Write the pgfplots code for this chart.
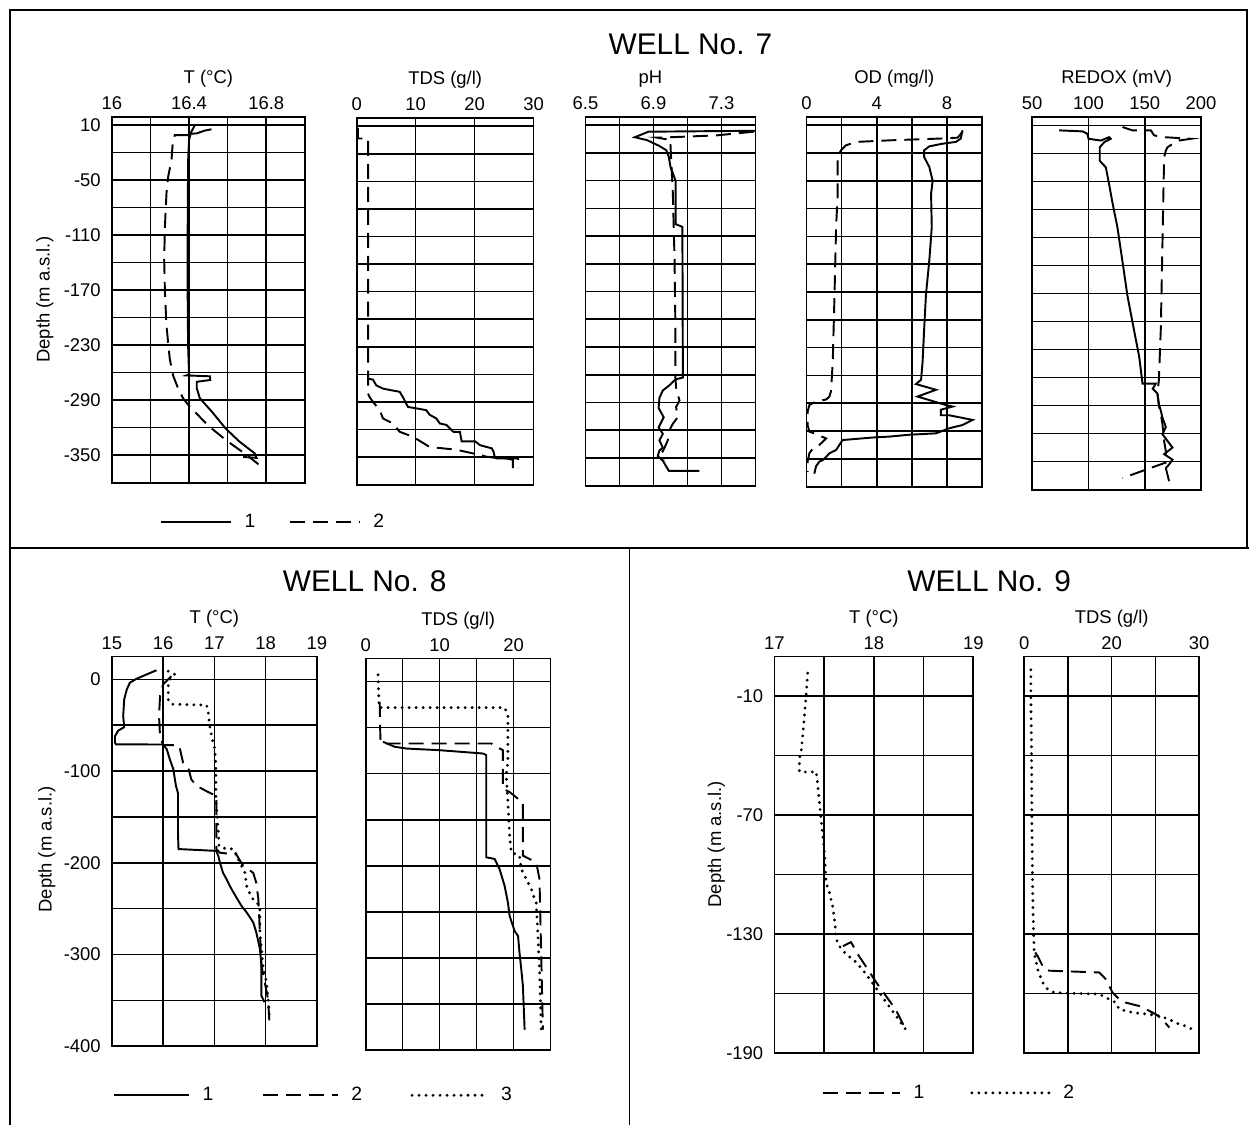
\documentclass[border=0pt]{standalone}
\usepackage{fontspec}
\setmainfont{Liberation Sans}
\usepackage{pgfplots}
\pgfplotsset{compat=1.18}

\newcommand{\tickfont}{\fontsize{10.5}{12.5}\selectfont}
\newcommand{\labfont}{\fontsize{10.5}{12.5}\selectfont}

\pgfplotsset{
 wellax/.style={
   scale only axis, anchor=north west,
   axis line style={line width=1pt},
   grid=major, major grid style={line width=0.9pt,black},
   major tick length=0pt,
   xticklabel pos=upper,
   tick label style={font=\tickfont},
   xticklabel style={anchor=base,yshift=0.15cm},
   yticklabel style={xshift=-0.1cm},
   yticklabels={},
   no markers,
 },
 atitle/.style={extra description/.code={\node[anchor=base,font=\labfont,yshift=0.66cm] at (axis description cs:0.5,1) {#1};}},
 s1/.style={black,line width=1.1pt},
 s2/.style={black,line width=1.1pt,dash pattern=on 0.3cm off 0.16cm},
 s3/.style={black,line width=1.8pt,line cap=round,dash pattern=on 0pt off 0.14cm},
 legimg/.style={legend image code/.code={\draw[##1] (0cm,0cm) -- (#1,0cm);}},
 wlegend/.style={legend style={draw=none,fill=none,inner sep=0pt,legend columns=-1,
   font=\fontsize{11}{13}\selectfont,
   /tikz/every odd column/.append style={column sep=0.18cm},
   /tikz/every even column/.append style={column sep=#1}}},
}

\begin{document}
\begin{tikzpicture}
\path (0,0) rectangle (25,-22.52);
% frames
\draw[line width=1.1pt] (0.2,-22.52) -- (0.2,-0.2) -- (24.96,-0.2) -- (24.96,-10.96);
\draw[line width=1.1pt] (0.2,-10.96) -- (25,-10.96);
\draw[line width=1.1pt] (12.6,-10.96) -- (12.6,-22.52);
% titles
\node[font=\fontsize{17}{20}\selectfont] at (13.82,-0.88) {WELL No. 7};
\node[font=\fontsize{17}{20}\selectfont] at (7.3,-11.64) {WELL No. 8};
\node[font=\fontsize{17}{20}\selectfont] at (19.8,-11.64) {WELL No. 9};
\node[rotate=90,font=\labfont] at (0.9,-6.0) {Depth (m a.s.l.)};
\node[rotate=90,font=\labfont] at (0.94,-17.0) {Depth (m a.s.l.)};
\node[rotate=90,font=\labfont] at (14.34,-16.9) {Depth (m a.s.l.)};

% ================= WELL 7 =================
\begin{axis}[wellax, at={(2.24cm,-2.34cm)}, width=3.86cm, height=7.32cm,
  xmin=16, xmax=17, ymin=-380, ymax=19,
  xtick={16,16.2,16.4,16.6,16.8,17}, xticklabels={16,,16.4,,16.8,},
  ytick={-350,-320,-290,-260,-230,-200,-170,-140,-110,-80,-50,-20,10},
  yticklabels={-350,,-290,,-230,,-170,,-110,,-50,,10},
  atitle={T (°C)},
  legimg=1.4cm, wlegend=0.6cm,
  legend style={at={(0.249,-0.107)},anchor=west}]
\addplot[s1] coordinates {(16.43,10) (16.41,2) (16.40,-6) (16.395,-30) (16.393,-100) (16.393,-180) (16.395,-230) (16.40,-262) (16.387,-263) (16.508,-264) (16.51,-268) (16.44,-270) (16.44,-277) (16.456,-288) (16.52,-303) (16.59,-321) (16.66,-335) (16.74,-348) (16.75,-353) (16.68,-352)};
\addlegendentry{1}
\addplot[s2] coordinates {(16.395,-0.8) (16.326,-0.8) (16.314,-13) (16.309,-28) (16.292,-46) (16.283,-64) (16.275,-100) (16.271,-136) (16.275,-173) (16.283,-209) (16.30,-245) (16.317,-263) (16.343,-277) (16.369,-288) (16.395,-295) (16.50,-318) (16.60,-335) (16.70,-350) (16.76,-360)};
\addlegendentry{2}
\addplot[s1,forget plot] coordinates {(16.516,5.5) (16.48,4) (16.44,1) (16.40,0.5)};
\end{axis}

\begin{axis}[wellax, at={(7.14cm,-2.36cm)}, width=3.54cm, height=7.34cm,
  xmin=0, xmax=30, ymin=-380, ymax=19,
  xtick={0,10,20,30}, xticklabels={0,10,20,30},
  ytick={-350,-320,-290,-260,-230,-200,-170,-140,-110,-80,-50,-20,10},
  atitle={TDS (g/l)}]
\addplot[s1] coordinates {(1.92,-264.7) (2.77,-265.8) (3.3,-272) (4.46,-275.5) (5.6,-277) (7.29,-279) (7.85,-285) (8.4,-292) (8.7,-295.5) (10.1,-297) (11.8,-299) (12.37,-304) (13.5,-308) (14.1,-313.5) (15.2,-315) (16.4,-322.5) (17.5,-322.5) (17.8,-333) (20.1,-333) (20.9,-337) (22.0,-339) (22.9,-340.5) (23.2,-344) (23.4,-349.6) (23.7,-351.4) (25.4,-351.4) (26.5,-353) (26.5,-362)};
\addplot[s2] coordinates {(0.2,8) (0.2,-3.4) (1.92,-3.4) (1.92,-281) (2.2,-285) (2.77,-290) (3.9,-299) (4.46,-308) (6.15,-313.5) (7.29,-322.5) (9.55,-328) (12.37,-339) (14.6,-340.5) (16.9,-342) (19.7,-346) (22.0,-349.6) (24.2,-351.4) (27.4,-351.4) (27.4,-362)};
\end{axis}

\begin{axis}[wellax, at={(11.72cm,-2.34cm)}, width=3.40cm, height=7.38cm,
  xmin=6.5, xmax=7.5, ymin=-380, ymax=19,
  xtick={6.5,6.7,6.9,7.1,7.3,7.5}, xticklabels={6.5,,6.9,,7.3,},
  ytick={-350,-320,-290,-260,-230,-200,-170,-140,-110,-80,-50,-20,10},
  extra description/.code={\node[anchor=base,font=\labfont,yshift=0.66cm,xshift=-0.4cm] at (axis description cs:0.5,1) {pH};}]
\addplot[s1] coordinates {(7.5,4) (6.87,3) (6.79,-3) (6.86,-6) (6.93,-12) (6.975,-17) (6.99,-24) (7.00,-35) (7.03,-50) (7.03,-97) (7.07,-100) (7.073,-263) (7.03,-265) (6.99,-272) (6.955,-277) (6.935,-285) (6.93,-296) (6.96,-306) (6.93,-317) (6.955,-324) (6.935,-331) (6.955,-339) (6.935,-342) (6.925,-348) (6.955,-353) (6.99,-364) (7.17,-364)};
\addplot[s2] coordinates {(7.49,3) (7.27,-1) (7.0,-3) (6.92,-3.4) (7.0,-6) (7.0,-11) (7.004,-28) (7.014,-64) (7.024,-136) (7.029,-209) (7.029,-263) (7.033,-274) (7.043,-281) (7.053,-288) (7.033,-295) (7.043,-306) (7.014,-313) (6.994,-320) (6.984,-331) (6.965,-339) (6.945,-346) (6.96,-353)};
\end{axis}

\begin{axis}[wellax, at={(16.14cm,-2.34cm)}, width=3.52cm, height=7.40cm,
  xmin=0, xmax=10, ymin=-380, ymax=19,
  xtick={0,2,4,6,8,10}, xticklabels={0,,4,,8,},
  ytick={-350,-320,-290,-260,-230,-200,-170,-140,-110,-80,-50,-20,10},
  atitle={OD (mg/l)}]
\addplot[s1] coordinates {(8.88,4.6) (8.78,-4.4) (8.5,-8) (7.74,-9.9) (6.99,-12.8) (6.70,-17) (6.70,-24.4) (6.99,-35) (7.18,-50) (7.09,-64) (7.13,-100) (6.99,-136) (6.80,-172.5) (6.70,-209) (6.61,-245) (6.52,-264.7) (6.23,-269.3) (7.37,-275.5) (6.32,-282.8) (7.94,-292) (8.31,-293.6) (7.65,-297) (7.65,-303) (8.125,-303) (9.45,-308) (8.88,-313.5) (8.125,-317) (7.37,-322.5) (5.85,-324) (4.72,-326) (3.78,-327) (2.06,-329.7) (1.875,-335) (1.69,-340.5) (1.31,-344) (1.12,-348) (0.93,-351.4) (0.74,-353) (0.55,-358) (0.45,-366)};
\addplot[s2] coordinates {(8.88,3) (8.6,-3.4) (7.56,-4.4) (4.72,-6.3) (2.82,-8) (2.25,-11.7) (1.97,-17) (1.78,-24.4) (1.78,-64) (1.69,-100) (1.6,-172.5) (1.5,-245) (1.4,-277) (1.31,-282.8) (1.12,-286) (0.55,-288) (0.17,-292) (0.07,-299) (0.07,-313.5) (0.17,-320.7) (0.45,-322.5) (1.12,-328) (0.74,-335) (0.36,-339) (0.17,-344) (0.07,-353) (0.07,-364)};
\end{axis}

\begin{axis}[wellax, at={(20.66cm,-2.34cm)}, width=3.38cm, height=7.46cm,
  xmin=50, xmax=200, ymin=-380, ymax=19,
  xtick={50,100,150,200}, xticklabels={50,100,150,200},
  ytick={-350,-320,-290,-260,-230,-200,-170,-140,-110,-80,-50,-20,10},
  atitle={REDOX (mV)}]
\addplot[s1] coordinates {(74,4.6) (94.6,3.5) (99,1) (100,-4.4) (110.9,-6.3) (118.3,-2.7) (119.8,-4.4) (114,-8) (110,-13.5) (110,-28) (115.4,-35) (118.3,-53) (121,-71) (125.8,-100) (130.2,-136) (134.6,-172.5) (140.4,-209) (145,-237.6) (148,-266.5) (159.8,-266.5) (157,-272) (161.2,-277) (162.5,-288) (164.2,-295.5) (165.7,-303) (168.7,-313) (165.7,-320.7) (174.6,-335) (167.2,-342) (174.6,-348) (171.6,-353) (168.7,-357) (171.6,-371)};
\addplot[s2] coordinates {(130.2,8.2) (139,4.6) (155.4,4.6) (158.3,-0.8) (167.2,-2.7) (190.9,-4.4) (180.5,-6.3) (174.6,-10) (170.1,-13.5) (168.7,-17) (167.2,-24) (166.5,-64) (165.4,-136) (164.2,-209) (162.5,-263) (161.2,-277) (162.5,-290) (164.2,-299) (165.7,-310) (167.2,-328) (168.7,-339) (168.7,-351) (130.2,-367.6)};
\end{axis}

% ================= WELL 8 =================
\begin{axis}[wellax, at={(2.24cm,-13.14cm)}, width=4.10cm, height=7.80cm,
  xmin=15, xmax=19, ymin=-400, ymax=25,
  xtick={15,16,17,18,19}, xticklabels={15,16,17,18,19},
  ytick={-400,-350,-300,-250,-200,-150,-100,-50,0},
  yticklabels={-400,,-300,,-200,,-100,,0},
  atitle={T (°C)},
  legimg=1.5cm, wlegend=0.9cm,
  legend style={at={(0.005,-0.126)},anchor=west}]
\addplot[s1] coordinates {(15.87,10) (15.48,0.7) (15.35,-3.6) (15.29,-11) (15.24,-22) (15.22,-40) (15.24,-52) (15.12,-56) (15.06,-62) (15.06,-69) (15.08,-70.8) (16.0,-71) (16.07,-76) (16.13,-87) (16.2,-98) (16.23,-109) (16.25,-116) (16.29,-124) (16.29,-167) (16.3,-185) (17.04,-187) (17.08,-193) (17.11,-200) (17.17,-211) (17.24,-218) (17.3,-225) (17.37,-232) (17.53,-247) (17.63,-254) (17.76,-265) (17.82,-276) (17.89,-294) (17.92,-312) (17.92,-345) (17.98,-352)};
\addlegendentry{1}
\addplot[s2] coordinates {(16.16,3.6) (16.0,-5.4) (15.94,-18) (15.92,-40) (15.94,-62) (16.0,-71.6) (16.29,-71.6) (16.33,-76) (16.39,-91) (16.49,-96) (16.55,-109) (16.65,-116) (16.85,-122) (17.04,-127) (17.04,-185) (17.11,-189) (17.43,-191) (17.56,-203) (17.76,-211) (17.82,-222) (17.86,-240) (17.89,-276) (17.92,-312) (18.05,-349) (18.08,-378)};
\addlegendentry{2}
\addplot[s3] coordinates {(16.10,9) (16.23,5.4) (16.13,0) (16.10,-7) (16.10,-22) (16.16,-27) (16.85,-28) (16.88,-36) (16.91,-51) (16.96,-65) (17.01,-76) (17.03,-95) (17.03,-131) (17.08,-167) (17.09,-182) (17.17,-184) (17.37,-185) (17.43,-191) (17.5,-200) (17.6,-211) (17.63,-225) (17.69,-233) (17.76,-240) (17.89,-247) (17.89,-276) (17.92,-294) (17.95,-312) (18.02,-331) (18.05,-349) (18.08,-371)};
\addlegendentry{3}
\end{axis}

\begin{axis}[wellax, at={(7.32cm,-13.18cm)}, width=3.70cm, height=7.84cm,
  xmin=0, xmax=25, ymin=-400, ymax=25,
  xtick={0,5,10,15,20,25}, xticklabels={0,,10,,20,},
  ytick={-400,-350,-300,-250,-200,-150,-100,-50,0},
  atitle={TDS (g/l)}]
\addplot[s1] coordinates {(2.34,-65.4) (3.92,-70.8) (5.5,-72.7) (10.0,-74.5) (15.86,-78.1) (16.3,-79.9) (16.3,-190.7) (17.43,-192.5) (18.1,-203.4) (18.78,-221.6) (19.23,-239.8) (19.46,-254.3) (20.14,-270.7) (20.6,-276.1) (20.8,-294.3) (21.04,-312.4) (21.26,-330.6) (21.49,-377.8)};
\addplot[s2] coordinates {(1.89,-22) (1.98,-61.8) (2.12,-67.2) (17.0,-67.2) (17.66,-70.8) (18.56,-74.5) (18.56,-116.3) (19.46,-119.9) (20.6,-127.2) (21.26,-130.8) (21.26,-188.9) (21.7,-190.7) (23.06,-196.2) (23.5,-214.3) (23.96,-377.8)};
\addplot[s3] coordinates {(1.67,7.3) (1.8,-27.2) (1.8,-28.3) (18.78,-28.3) (19.23,-36.3) (19.23,-87.2) (19.0,-101.7) (19.23,-130.8) (19.46,-167.1) (19.68,-185.3) (20.8,-188.9) (21.04,-203.4) (21.7,-214.3) (22.4,-225.2) (22.84,-236.1) (23.06,-239.8) (23.29,-276.1) (23.5,-312.4) (23.74,-377.8)};
\end{axis}

% ================= WELL 9 =================
\begin{axis}[wellax, at={(15.5cm,-13.14cm)}, width=3.98cm, height=7.94cm,
  xmin=17, xmax=19, ymin=-190, ymax=10,
  xtick={17,17.5,18,18.5,19}, xticklabels={17,,18,,19},
  ytick={-190,-160,-130,-100,-70,-40,-10},
  yticklabels={-190,,-130,,-70,,-10},
  atitle={T (°C)},
  legimg=1.55cm, wlegend=0.85cm,
  legend style={at={(0.236,-0.10)},anchor=west}]
\addplot[s2] coordinates {(17.69,-136) (17.77,-134) (17.85,-141) (17.93,-147) (18.02,-154) (18.12,-161) (18.22,-168) (18.31,-177)};
\addlegendentry{1}
\addplot[s3] coordinates {(17.335,1.6) (17.318,-10.2) (17.30,-21) (17.285,-30) (17.268,-38) (17.251,-41.4) (17.251,-48) (17.35,-48.4) (17.42,-48) (17.436,-55) (17.452,-63) (17.469,-72) (17.486,-80) (17.503,-89) (17.513,-97) (17.519,-104) (17.553,-109) (17.586,-116) (17.603,-122) (17.62,-131) (17.637,-135) (17.72,-140) (17.82,-144) (17.92,-150) (18.02,-157) (18.12,-164) (18.22,-171) (18.32,-178)};
\addlegendentry{2}
\end{axis}

\begin{axis}[wellax, at={(20.5cm,-13.14cm)}, width=3.50cm, height=7.94cm,
  xmin=0, xmax=30, ymin=-190, ymax=10,
  xtick={0,7.5,15,22.5,30}, xticklabels={0,,20,,30},
  ytick={-190,-160,-130,-100,-70,-40,-10},
  atitle={TDS (g/l)}]
\addplot[s2] coordinates {(1.89,-139.2) (2.29,-140.9) (3.43,-147.6) (4.29,-148.4) (12.86,-149.3) (14.0,-152.7) (15.14,-159.4) (16.29,-162.8) (17.43,-164.5) (19.7,-166.2) (20.86,-167.8) (22.6,-170.4) (23.7,-172.9) (24.9,-177.1)};
\addplot[s3] coordinates {(1.14,3.3) (1.14,-10.2) (1.26,-38) (1.31,-71.7) (1.43,-105.4) (1.54,-122.3) (1.71,-139.2) (2.29,-147.6) (3.14,-154.3) (4.0,-157.7) (5.14,-159.4) (7.14,-159.7) (12.86,-160.2) (14.57,-162.8) (15.71,-164.5) (16.29,-167.8) (18.57,-169.5) (21.43,-170.4) (23.14,-171.2) (24.86,-172.9) (26.57,-175.4) (27.71,-176.3) (29.43,-178.8)};
\end{axis}
\end{tikzpicture}
\end{document}
